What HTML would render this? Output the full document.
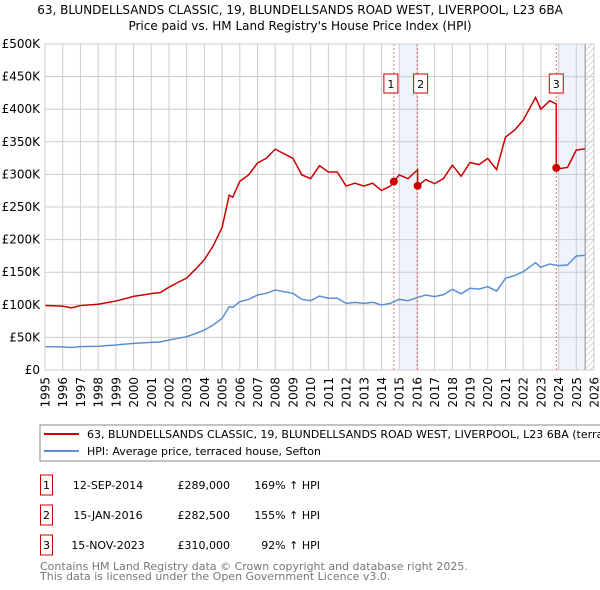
<!DOCTYPE html>
<html><head><meta charset="utf-8"><style>
body{margin:0;background:#fff;font-family:"Liberation Sans","DejaVu Sans",sans-serif}
svg{display:block}
</style></head><body>
<svg id="chart" width="600" height="590" xmlns="http://www.w3.org/2000/svg" font-family="DejaVu Sans, Liberation Sans, sans-serif">
<text x="300" y="14" font-size="12" text-anchor="middle" fill="#000">63, BLUNDELLSANDS CLASSIC, 19, BLUNDELLSANDS ROAD WEST, LIVERPOOL, L23 6BA</text>
<text x="300" y="30" font-size="12" text-anchor="middle" fill="#000">Price paid vs. HM Land Registry's House Price Index (HPI)</text>
<g id="plot"></g>
<rect x="40" y="425" width="570" height="36" fill="#fff" stroke="#888"/>
<line x1="44" y1="434" x2="79" y2="434" stroke="#cc0000" stroke-width="2"/>
<text x="87" y="438" font-size="11">63, BLUNDELLSANDS CLASSIC, 19, BLUNDELLSANDS ROAD WEST, LIVERPOOL, L23 6BA (terraced house)</text>
<line x1="44" y1="451" x2="79" y2="451" stroke="#5b8fd4" stroke-width="2"/>
<text x="87" y="455" font-size="11">HPI: Average price, terraced house, Sefton</text>
<g id="table" font-size="11"></g>
<text x="40" y="570" font-size="11" fill="#777">Contains HM Land Registry data © Crown copyright and database right 2025.</text>
<text x="40" y="580" font-size="11" fill="#777">This data is licensed under the Open Government Licence v3.0.</text>
</svg>
<script>
const hpiYears=[1995,1996,1996.5,1997,1998,1999,2000,2001,2001.5,2002,2002.5,2003,2003.5,2004,2004.5,2005,2005.4,2005.6,2006,2006.5,2007,2007.5,2008,2008.5,2009,2009.5,2010,2010.5,2011,2011.5,2012,2012.5,2013,2013.5,2014,2014.5,2015,2015.5,2016,2016.5,2017,2017.5,2018,2018.5,2019,2019.5,2020,2020.5,2021,2021.5,2022,2022.7,2023,2023.5,2024,2024.5,2025,2025.5];
const hpiValues=[35.8,35.5,34.5,35.8,36.5,38.3,40.9,42.4,43,46,48.6,51.1,56,61.3,69,79.2,97.1,96,104.8,108.4,115,117.6,122.7,120.1,117.6,108.4,106.3,113.5,110,110,102.2,103.8,102.2,103.8,99.7,102.2,108.4,106.3,110.9,115,112.5,115.6,123.7,117,125.3,124,127.8,121,140.6,144.7,150.8,164.6,157.5,162.6,160,161,174.8,175.9];
const saleLabels=["1","2","3"];
const saleYears=[2014.7,2016.04,2023.87];
const salePrices=[289000,282500,310000];
const saleDates=["12-SEP-2014","15-JAN-2016","15-NOV-2023"];
const salePriceText=["£289,000","£282,500","£310,000"];
const salePctText=["169% ↑ HPI","155% ↑ HPI","92% ↑ HPI"];
const yTicks=[0,50,100,150,200,250,300,350,400,450,500];
const yTickLabels=["£0","£50K","£100K","£150K","£200K","£250K","£300K","£350K","£400K","£450K","£500K"];
const xTicks=[1995,1996,1997,1998,1999,2000,2001,2002,2003,2004,2005,2006,2007,2008,2009,2010,2011,2012,2013,2014,2015,2016,2017,2018,2019,2020,2021,2022,2023,2024,2025,2026];

const NS="http://www.w3.org/2000/svg";
const X0=45,X1=594,Y0=370,Y1=44;
const xs=y=>X0+(y-1995)/(2026-1995)*(X1-X0);
const ys=v=>Y0-v/500*(Y0-Y1);
const plot=document.getElementById('plot');
function mk(tag,attrs,parent){const e=document.createElementNS(NS,tag);for(const k in attrs)e.setAttribute(k,attrs[k]);(parent||plot).appendChild(e);return e;}
function hpiAt(y){for(let i=1;i<hpiYears.length;i++){if(y<=hpiYears[i]){const t=(y-hpiYears[i-1])/(hpiYears[i]-hpiYears[i-1]);return hpiValues[i-1]+t*(hpiValues[i]-hpiValues[i-1]);}}return hpiValues[hpiValues.length-1];}

let e;
e=mk('rect',{x:xs(2015),y:Y1,width:xs(saleYears[1])-xs(2015),height:Y0-Y1,fill:'#eef3fc'});


e=mk('rect',{x:xs(2024),y:Y1,width:xs(2025.5)-xs(2024),height:Y0-Y1,fill:'#eef3fc'});


const defs=mk('defs',{});
const pat=mk('pattern',{id:'hatch',width:6,height:6,patternUnits:'userSpaceOnUse'},defs);
mk('path',{d:'M0,6 L6,0',stroke:'#ccc','stroke-width':0.8},pat);
e=mk('rect',{x:xs(2025.5),y:Y1,width:X1-xs(2025.5),height:Y0-Y1,fill:'url(#hatch)'});


yTicks.forEach((v,i)=>{
  e=mk('line',{x1:X0,x2:X1,y1:ys(v),y2:ys(v),stroke:'#ccc'});
  
  
  e=mk('text',{x:40,y:ys(v)+4,'font-size':12,'text-anchor':'end'});e.textContent=yTickLabels[i];
  
  
});
xTicks.forEach(y=>{
  e=mk('line',{x1:xs(y),x2:xs(y),y1:Y1,y2:Y0,stroke:'#ccc'});
  
  
  e=mk('text',{x:0,y:0,'font-size':12,'text-anchor':'end',transform:`translate(${xs(y)+4.5},377) rotate(-90)`});e.textContent=y;
  
  
});
e=mk('line',{x1:xs(2025.5),x2:xs(2025.5),y1:Y1,y2:Y0,stroke:'#888'});


saleYears.forEach(y=>{
  e=mk('line',{x1:xs(y),x2:xs(y),y1:Y1,y2:Y0,stroke:'#e05050','stroke-dasharray':'2,2','stroke-width':0.8});
  
  
});
e=mk('polyline',{points:hpiYears.map((y,i)=>xs(y)+','+ys(hpiValues[i])).join(' '),fill:'none',stroke:'#5b8fd4','stroke-width':1.5});


const ratio=saleYears.map((y,i)=>salePrices[i]/1000/hpiAt(y));
function ratioFor(y){let r=ratio[0];saleYears.forEach((s,i)=>{if(y>=s)r=ratio[i];});return r;}
let pts=[];let allYears=hpiYears.concat(saleYears).sort((a,b)=>a-b);
allYears.forEach(y=>{
  const si=saleYears.indexOf(y);
  if(si>0) pts.push(xs(y)+','+ys(hpiAt(y)*ratio[si-1]));
  pts.push(xs(y)+','+ys(hpiAt(y)*ratioFor(y)));
});
e=mk('polyline',{points:pts.join(' '),fill:'none',stroke:'#cc0000','stroke-width':1.5});


saleYears.forEach((y,i)=>{
  e=mk('circle',{cx:xs(y),cy:ys(salePrices[i]/1000),r:4,fill:'#cc0000'});
  
  
  const off=(i==0?-3:(i==1?3:0));
  e=mk('rect',{x:xs(y)-7+off,y:74,width:14,height:19,fill:'#fff',stroke:'#cc0000'});
  
  
  e=mk('text',{x:xs(y)+off,y:88,'font-size':11,'text-anchor':'middle'});e.textContent=saleLabels[i];
  
  
});
mk('rect',{x:X0,y:Y1,width:X1-X0,height:Y0-Y1,fill:'none',stroke:'#ccc'});
const tb=document.getElementById('table');
saleLabels.forEach((l,i)=>{
  const ty=475+i*30;
  e=mk('rect',{x:40.5,y:ty,width:12,height:20,fill:'#fff',stroke:'#cc0000'},tb);
  
  
  e=mk('text',{x:46.5,y:ty+14,'text-anchor':'middle'},tb);e.textContent=l;
  
  
  e=mk('text',{x:108,y:ty+14,'text-anchor':'middle'},tb);e.textContent=saleDates[i];
  
  
  e=mk('text',{x:230,y:ty+14,'text-anchor':'end'},tb);e.textContent=salePriceText[i];
  
  
  e=mk('text',{x:320,y:ty+14,'text-anchor':'end'},tb);e.textContent=salePctText[i];
  
  
});
</script>
</body></html>
